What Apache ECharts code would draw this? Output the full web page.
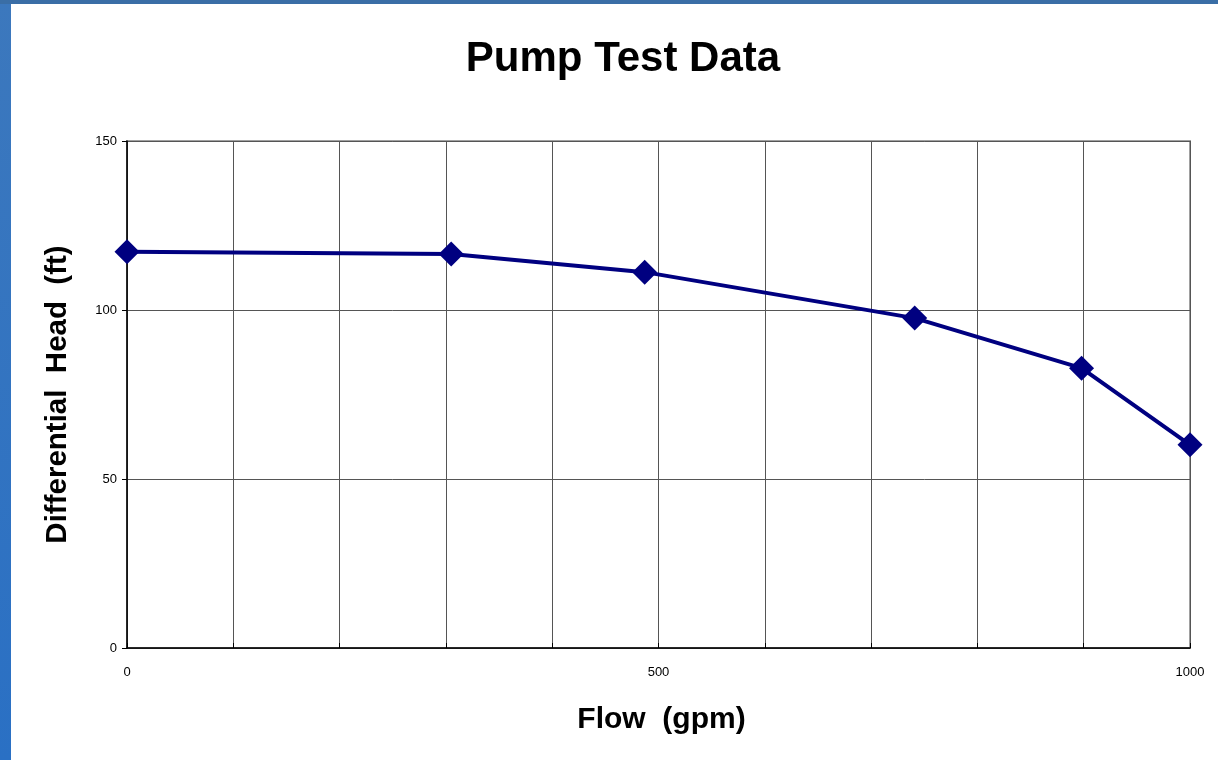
<!DOCTYPE html>
<html>
<head>
<meta charset="utf-8">
<script src="https://cdn.jsdelivr.net/npm/echarts@6/dist/echarts.min.js"></script>
<style>html,body{margin:0;padding:0;background:#fff}#c{width:1218px;height:760px}</style>
</head>
<body>
<div id="c"></div>
<script>
const flow = [0, 305, 487, 741, 898, 1000];
const head = [117.2, 116.6, 111.2, 97.6, 82.8, 60.1];
const xLabels = [0, 500, 1000];
const yLabels = [0, 50, 100, 150];
const FONT = "'Liberation Sans', Arial, sans-serif";

const chart = echarts.init(document.getElementById('c'));
chart.setOption({
  animation: false,
  backgroundColor: '#fff',
  graphic: [
    {type: 'rect', shape: {x: 0, y: 0, width: 11, height: 760}, style: {fill: new echarts.graphic.LinearGradient(0,0,0,1,[{offset:0,color:'#3c78bd'},{offset:1,color:'#2a70c4'}])}, z: 100},
    {type: 'rect', shape: {x: 0, y: 0, width: 1218, height: 4}, style: {fill: '#3a6ea6'}, z: 100}
  ],
  title: {
    text: 'Pump Test Data',
    left: 618, top: 33, textAlign: 'center',
    textStyle: {fontFamily: FONT, fontSize: 42, fontWeight: 'bold', color: '#000'}
  },
  grid: {left: 127, right: 28, top: 141, bottom: 112, show: true, borderColor: '#a0a0a0', borderWidth: 2, backgroundColor: 'transparent'},
  xAxis: {
    type: 'value', min: 0, max: 1000, interval: 100,
    name: 'Flow  (gpm)', nameLocation: 'middle', nameGap: 57,
    nameTextStyle: {fontFamily: FONT, fontSize: 30, fontWeight: 'bold', color: '#000', padding: [0,0,0,6]},
    axisLine: {show: true, lineStyle: {color: '#000', width: 1.5}},
    axisTick: {show: true, inside: true, length: 5, lineStyle: {color: '#000'}},
    axisLabel: {fontFamily: FONT, fontSize: 13, color: '#000', margin: 18,
      formatter: v => xLabels.includes(v) ? String(v) : ''},
    splitLine: {show: true, lineStyle: {color: '#555', width: 1}}
  },
  yAxis: {
    type: 'value', min: 0, max: 150, interval: 50,
    name: 'Differential  Head  (ft)', nameLocation: 'middle', nameGap: 54,
    nameTextStyle: {fontFamily: FONT, fontSize: 29.5, fontWeight: 'bold', color: '#000'},
    axisLine: {show: true, lineStyle: {color: '#000', width: 1.5}},
    axisTick: {show: true, length: 5, lineStyle: {color: '#000'}},
    axisLabel: {fontFamily: FONT, fontSize: 13, color: '#000', margin: 10,
      formatter: v => yLabels.includes(v) ? String(v) : ''},
    splitLine: {show: true, lineStyle: {color: '#555', width: 1}}
  },
  series: [{
    type: 'line',
    data: flow.map((f, i) => [f, head[i]]),
    symbol: 'diamond', symbolSize: 25,
    lineStyle: {color: '#000080', width: 4},
    itemStyle: {color: '#000080'},
    clip: false
  }]
});
</script>
</body>
</html>
